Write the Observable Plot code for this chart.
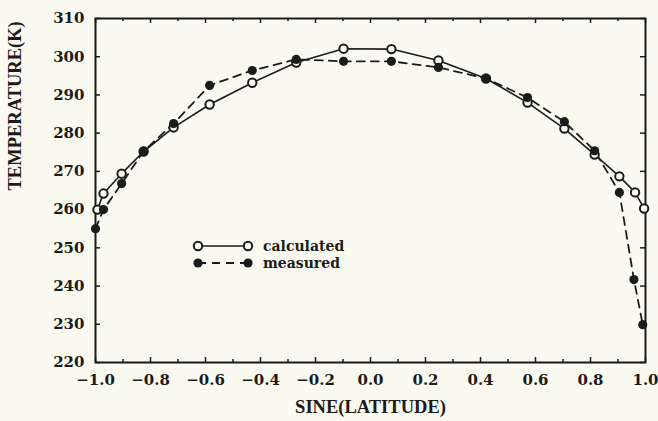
<!DOCTYPE html>
<html>
<head>
<meta charset="utf-8">
<script src="https://cdn.jsdelivr.net/npm/d3@7"></script>
<script src="https://cdn.jsdelivr.net/npm/@observablehq/plot@0.6"></script>
<style>
  body { margin: 0; background: #fbfaf0; }
  #wrap { position: relative; width: 658px; height: 421px; }
  #legend { position: absolute; left: 0; top: 0; pointer-events: none; }
</style>
</head>
<body>
<div id="wrap"></div>
<script>
// ---- data ----
const calcX = [-0.993, -0.971, -0.905, -0.825, -0.716, -0.585, -0.43, -0.27, -0.098, 0.076, 0.247, 0.42, 0.571, 0.705, 0.815, 0.905, 0.962, 0.995];
const calcT = [260.0, 264.2, 269.4, 275.2, 281.5, 287.5, 293.2, 298.5, 302.1, 302.0, 299.0, 294.3, 288.0, 281.2, 274.4, 268.7, 264.5, 260.3];
const measX = [-1.0, -0.971, -0.905, -0.825, -0.716, -0.585, -0.43, -0.27, -0.098, 0.076, 0.247, 0.42, 0.571, 0.705, 0.815, 0.905, 0.958, 0.99];
const measT = [255.0, 260.0, 266.8, 275.3, 282.5, 292.5, 296.4, 299.3, 298.8, 298.8, 297.2, 294.3, 289.3, 283.0, 275.4, 264.5, 241.7, 229.9];

const xTicks = [-1.0, -0.8, -0.6, -0.4, -0.2, 0.0, 0.2, 0.4, 0.6, 0.8, 1.0];
const xMinorTicks = [-0.9, -0.7, -0.5, -0.3, -0.1, 0.1, 0.3, 0.5, 0.7, 0.9];
const yTicks = [220, 230, 240, 250, 260, 270, 280, 290, 300, 310];

const seriesNames = ["calculated", "measured"];
const xLabel = "SINE(LATITUDE)";
const yLabel = "TEMPERATURE(K)";

const calc = calcX.map((x, i) => ({x, t: calcT[i]}));
const meas = measX.map((x, i) => ({x, t: measT[i]}));

const ink = "#1b1b1b";
const bg = "#fbfaf0";
const tickFont = "DejaVu Serif";
const labelFont = "Liberation Serif";

const W = 658, H = 421, ML = 95, MR = 13, MT = 18, MB = 59;
const fw = W - ML - MR, fh = H - MT - MB;

// inward tick helpers (length in px, done with insets)
const tickBottom = (data, len) => Plot.ruleX(data, {x: d => d, insetTop: fh - len, stroke: ink, strokeWidth: 1.5});
const tickTop = (data, len) => Plot.ruleX(data, {x: d => d, insetBottom: fh - len, stroke: ink, strokeWidth: 1.5});
const tickLeft = (data, len) => Plot.ruleY(data, {y: d => d, insetRight: fw - len, stroke: ink, strokeWidth: 1.5});
const tickRight = (data, len) => Plot.ruleY(data, {y: d => d, insetLeft: fw - len, stroke: ink, strokeWidth: 1.5});

const plot = Plot.plot({
  width: W,
  height: H,
  marginLeft: ML,
  marginRight: MR,
  marginTop: MT,
  marginBottom: MB,
  style: {background: "transparent", color: ink, fontFamily: tickFont, fontWeight: "bold", fontSize: "15px"},
  x: {domain: [-1, 1]},
  y: {domain: [220, 310]},
  marks: [
    // tick labels
    Plot.axisX(xTicks, {tickSize: 0, tickPadding: 12, tickFormat: d3.format(".1f"), label: null, fontSize: 15, fontWeight: "bold"}),
    Plot.axisY(yTicks, {tickSize: 0, tickPadding: 11, tickFormat: d3.format("d"), label: null, fontSize: 15, fontWeight: "bold"}),
    // inward ticks
    tickBottom(xTicks, 5), tickBottom(xMinorTicks, 3),
    tickTop(xTicks, 5), tickTop(xMinorTicks, 3),
    tickLeft(yTicks, 5), tickRight(yTicks, 5),
    Plot.frame({stroke: ink, strokeWidth: 2}),
    // axis titles
    Plot.text([xLabel], {frameAnchor: "bottom", dy: 50, fontFamily: labelFont, fontWeight: "bold", fontSize: 18.5, fill: ink}),
    Plot.text([yLabel], {frameAnchor: "left", dx: -80, rotate: -90, fontFamily: labelFont, fontWeight: "bold", fontSize: 18.5, fill: ink}),
    // series
    Plot.line(meas, {x: "x", y: "t", stroke: ink, strokeWidth: 1.8, strokeDasharray: "8,6"}),
    Plot.line(calc, {x: "x", y: "t", stroke: ink, strokeWidth: 1.6}),
    Plot.dot(calc, {x: "x", y: "t", r: 4.2, stroke: ink, strokeWidth: 2, fill: bg}),
    Plot.dot(meas, {x: "x", y: "t", r: 4.6, fill: ink, stroke: "none"})
  ]
});
document.getElementById("wrap").appendChild(plot);

// ---- legend overlay ----
const lg = d3.select("#wrap").append("svg")
  .attr("id", "legend").attr("width", W).attr("height", H);
const rows = [
  {name: seriesNames[0], y: 246, open: true, dash: null},
  {name: seriesNames[1], y: 263, open: false, dash: "8,6"}
];
for (const r of rows) {
  lg.append("line").attr("x1", 198).attr("x2", 248).attr("y1", r.y).attr("y2", r.y)
    .attr("stroke", ink).attr("stroke-width", r.open ? 1.4 : 1.8)
    .attr("stroke-dasharray", r.dash);
  for (const cx of [198, 248]) {
    lg.append("circle").attr("cx", cx).attr("cy", r.y).attr("r", r.open ? 4.2 : 4.6)
      .attr("fill", r.open ? bg : ink).attr("stroke", r.open ? ink : "none").attr("stroke-width", 2);
  }
  lg.append("text").attr("x", 263).attr("y", r.y).attr("dy", "0.35em")
    .attr("font-family", tickFont).attr("font-weight", "bold").attr("font-size", 14)
    .attr("fill", ink).text(r.name);
}
</script>
</body>
</html>
